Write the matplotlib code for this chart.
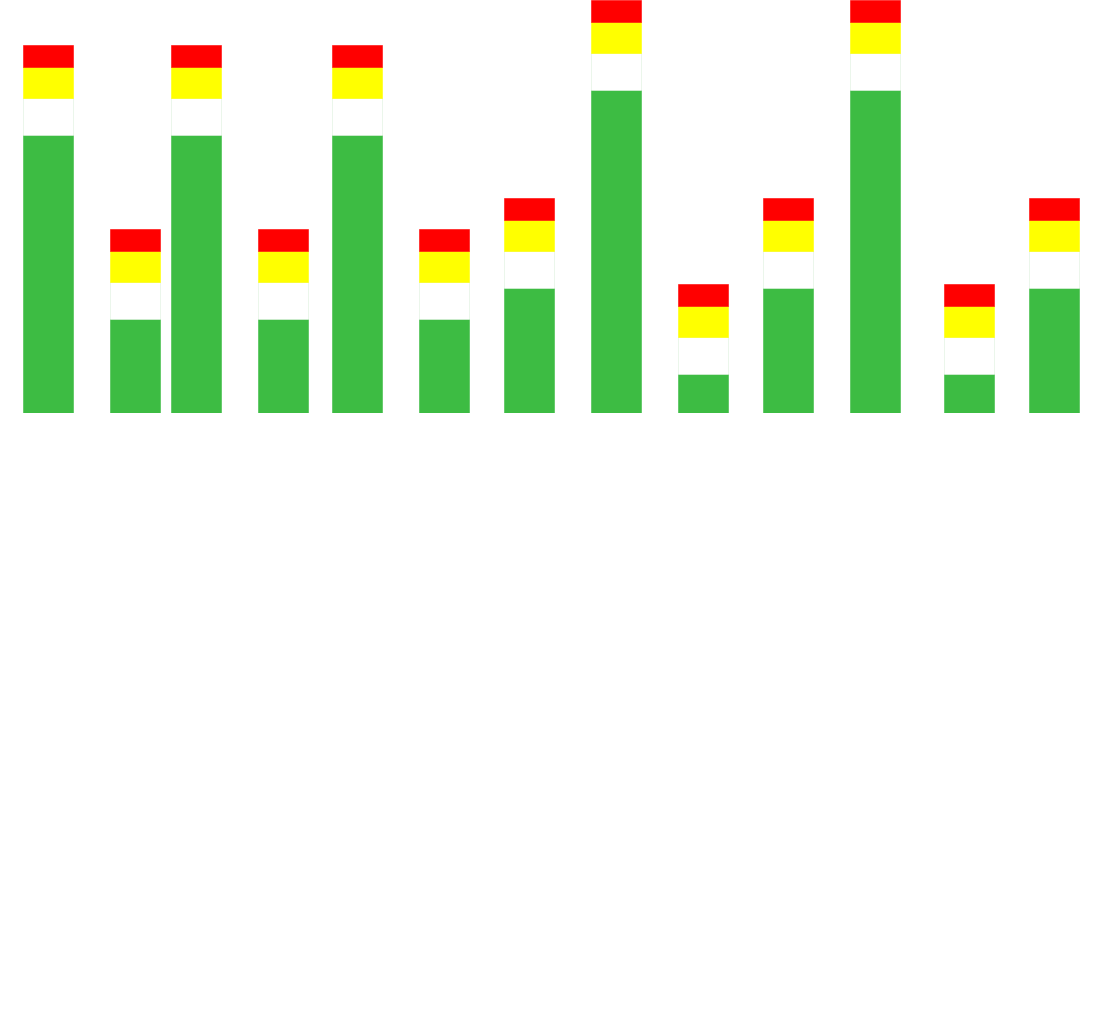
import numpy as np
import matplotlib
matplotlib.use('Agg')
import matplotlib.pyplot as plt

# bar positions (left edge, px) and segment heights (px units)
x_left = [23, 110, 171, 258, 332, 419, 504, 591, 678, 763, 850, 944, 1029]
green = [278, 94, 278, 94, 278, 94, 125, 323, 39, 125, 323, 39, 125]
white = [37] * 13
yellow = [31] * 13
red = [22] * 13

fig = plt.figure(figsize=(11.11, 10.26), dpi=100)
ax = fig.add_axes([0, (1026 - 413) / 1026, 1, 413 / 1026])
ax.set_xlim(0, 1111)
ax.set_ylim(0, 413)
ax.axis('off')

bottom = np.zeros(len(x_left))
for vals, col in [(green, '#3dbc43'), (white, '#ffffff'), (yellow, '#ffff00'), (red, '#ff0000')]:
    ax.bar(np.array(x_left) + 0.25, vals, width=49.5, bottom=bottom, align='edge', color=col,
           edgecolor='#dcf0dc' if col == '#ffffff' else col, linewidth=0.4)
    bottom += np.array(vals)

fig.savefig('out.png', dpi=100, facecolor='white')
